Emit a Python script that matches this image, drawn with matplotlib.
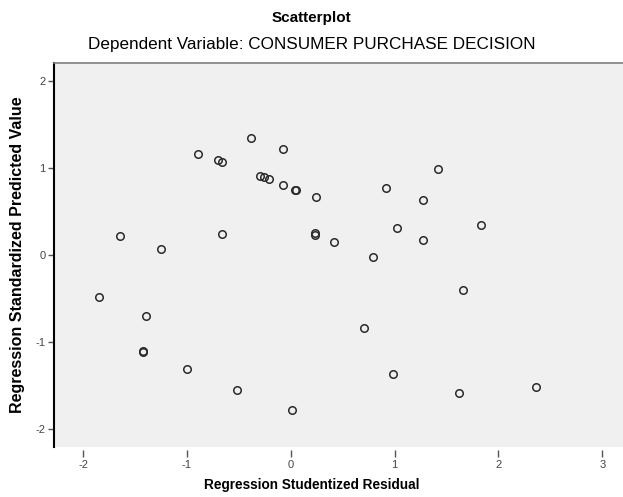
import matplotlib
matplotlib.use("Agg")
import matplotlib.pyplot as plt

plt.rcParams['font.family'] = ['Liberation Sans', 'DejaVu Sans']

residual = [-1.847, -1.641, -1.246, -1.397, -1.423, -1.420, -1.002, -0.893, -0.700, -0.662,
            -0.658, -0.514, -0.385, -0.299, -0.260, -0.209, -0.070, -0.070, 0.041, 0.046,
            0.013, 0.241, 0.231, 0.231, 0.421, 0.790, 0.706, 0.918, 1.021, 0.983,
            1.275, 1.275, 1.423, 1.657, 1.830, 1.618, 2.360]
predicted = [-0.480, 0.219, 0.073, -0.703, -1.114, -1.105, -1.313, 1.164, 1.094, 1.068,
             0.238, -1.555, 1.351, 0.914, 0.895, 0.872, 1.221, 0.803, 0.749, 0.752,
             -1.786, 0.668, 0.250, 0.226, 0.153, -0.023, -0.841, 0.775, 0.308, -1.371,
             0.630, 0.173, 0.987, -0.403, 0.349, -1.590, -1.521]

xticks = [-2, -1, 0, 1, 2, 3]
yticks = [-2, -1, 0, 1, 2]

fig = plt.figure(figsize=(6.23, 4.97), dpi=100)
ax = fig.add_axes([54/623, 50/497, 1 - 54/623, (447-63)/497])
ax.set_facecolor('#F0F0F0')

ax.plot(residual, predicted, linestyle='none', marker='o', markersize=5.4,
        markerfacecolor='none', markeredgecolor='#2a2a2a', markeredgewidth=1.1)

ax.set_xlim(-2.28, 3.2)
ax.set_ylim(-2.21, 2.21)
ax.set_xticks(xticks)
ax.set_yticks(yticks)
ax.set_xticklabels([str(t) for t in xticks])
ax.set_yticklabels([str(t) for t in yticks])

ax.spines['right'].set_visible(False)
ax.spines['top'].set_color('#808080')
ax.spines['top'].set_linewidth(1.2)
ax.spines['left'].set_color('black')
ax.spines['left'].set_linewidth(1.5)
ax.spines['bottom'].set_position(('outward', 2))
ax.spines['bottom'].set_visible(False)

ax.tick_params(axis='x', direction='out', length=5, width=1, color='#555555',
               labelsize=8, labelcolor='#444444', pad=2)
ax.tick_params(axis='y', direction='out', length=4, width=1, color='#555555',
               labelsize=8, labelcolor='#444444', pad=2)

ax.set_ylabel('Regression Standardized Predicted Value', fontsize=11.5, fontweight='bold', labelpad=8)
fig.text(0.5, 1 - 485/497, 'Regression Studentized Residual', ha='center', va='center',
         fontsize=9.8, fontweight='bold')

fig.text(0.5, 1 - 18/497, 'Scatterplot', ha='center', va='center', fontsize=11, fontweight='bold')
fig.text(0.5, 1 - 45/497, 'Dependent Variable: CONSUMER PURCHASE DECISION', ha='center', va='center', fontsize=12.3)

fig.savefig('out.png', dpi=100, facecolor='white')
